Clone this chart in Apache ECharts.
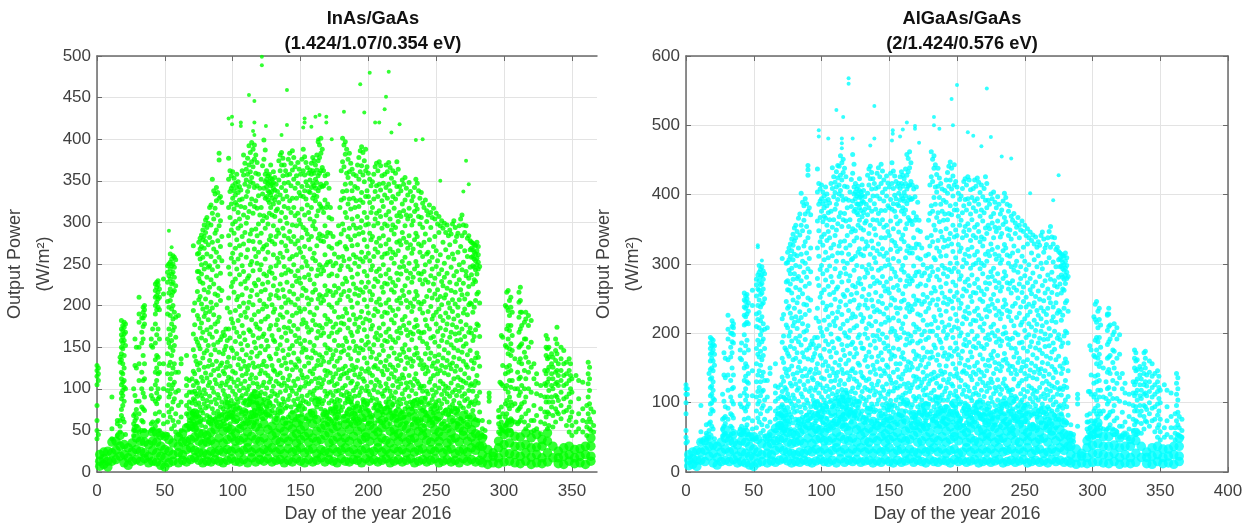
<!DOCTYPE html>
<html><head><meta charset="utf-8"><style>html,body{margin:0;background:#fff}#c{width:1254px;height:526px}</style>
<script src="https://cdn.jsdelivr.net/npm/echarts@6/dist/echarts.min.js"></script></head><body><div id="c"></div>
<script>
const inasTicksX=[0,50,100,150,200,250,300,350];
const algaTicksX=[0,50,100,150,200,250,300,350,400];
const inasOutliers=[[121.5,499],[121.5,489],[112,453],[116,446],[140,459],[99.5,427],[97,425],[99.5,418],[106,420],[106,416],[116,420],[115,410],[116,405],[124.5,416],[140,417],[136,405],[153,425],[153,420],[152,414],[158,415],[161,427],[164,429],[169,427],[169,420],[173,400],[163,400],[201,480],[215,481],[194,466],[213,451],[212,436],[197,432],[182,433],[208,420],[205,420],[223,418],[217,408],[235,399],[240,400],[272,374],[274,346],[270,337],[253,350],[53,290],[55,270]];
const inasColumns=[
[0,128,122,115,105,80,62,50,40],[1,125,118,110,45],[11,90,52,40],[15,62,58,44],[17,138,132,62,55,48],
[18,182,172,165,158,150,142,135,120,112,105,95,88,75,68],[19,176,170,162,155,148,130,118,108,98,92,80,64],[20,180,174,166,158,140,125,110,102,85,60],[21,178,168,152,100,45],
[27,100,68,58,50,44],[28,160,128,92,70,62,50],[29,150,125,85,75,65,55],[31,210,190,180,150,130,110,85,70,48],[33,185,168,155,120,100,78,62,50],[34,198,192,185,175,160,140,110,95,76,60],[35,200,195,188,178,130,112,90,74,50],
[40,160,152,100,92,58,50],[41,172,150,88,60,52],[43,226,218,210,200,190,178,155,135,120,105,85,70,55],[44,228,222,212,204,195,165,140,125,110,95,82,60],[45,230,225,216,208,198,172,138,118,100,88,62],[46,220,210,195,160,130,120,90,72,50],
[49,232,214,130,100,68,58,44],[52,248,240,228,205,190,160,142,118,98,80,60,45],[53,250,236,215,198,172,155,128,105,90,72],[54,262,252,244,232,220,206,188,165,150,132,112,94,66],[55,256,248,238,226,212,196,178,158,140,118,100,76,52],[56,260,250,240,228,216,200,184,170,146,125,105,84,62],[57,258,246,234,218,192,174,152,130,108,88,56],[58,255,224,186,162,120,96,70,48],[60,188,120,98,80,60,45],[62,136,130,84,66,50],[66,140,112,104,92,80,70,56],[68,110,96,84,76,62,52],
[70,112,96,83,71,64,58],[71,272,194,166,147,121,104,88,73,61,52],[72,203,177,139,118,97,86,69,57],[73,160,133,109,94,81,66,53],[74,262,241,217,188,156,129,107,91,72,59],[75,276,263,241,233,207,184,152,123,101,83,67],[76,281,268,256,229,211,173,148,131,96,78,61],[77,285,271,249,238,202,179,161,114,92,74,56],[78,291,279,258,227,196,168,137,109,88,71],[79,297,283,269,244,219,187,143,126,99,82,63],[80,303,288,277,251,208,191,158,119,94,77,54],[81,306,294,262,234,198,171,146,113,86,68],[82,299,273,246,216,183,152,127,104,79,60],[83,318,282,248,222,193,166,134,108,91,66],[84,321,297,259,231,204,174,141,117,84,57],[85,352,311,276,243,197,162,129,101,76,62],[86,338,304,268,226,189,153,122,96,71],[87,334,317,287,253,214,178,147,111,87,64],[88,342,326,291,264,236,201,169,133,106,82,59],[89,336,309,278,247,212,181,156,124,93,73],[90,383,375,329,296,258,221,186,144,116,89,67],[91,331,302,271,239,206,159,128,103,78,56],[92,324,283,254,218,163,131,107,84,69],[93,168,142,121,98,76,61],[94,164,147,118,93,72,58],[95,172,151,126,105,88,63],[96,197,158,132,109,83,66,52],[97,377,352,318,284,246,209,172,138,114,91,74],[98,362,337,306,273,238,192,161,127,102,79,58],[99,356,341,322,291,257,223,184,149,112,86,68],
[100,361,344,329,298,263,228,179,146,121,97,71],[101,353,338,316,287,252,216,173,137,108,82,63],[102,347,333,324,301,269,232,194,157,119,93,76],[103,358,342,321,279,244,207,168,142,103,88,61],[104,349,336,312,293,256,211,182,129,111,84,69],[105,343,327,304,272,237,199,163,136,98,77,55],[106,339,319,296,261,226,188,154,124,106,89,64],[107,362,328,283,248,213,176,147,116,92,72],[108,381,357,309,274,241,203,167,133,101,83,58],[109,371,346,318,288,229,192,159,127,109,86,67],[110,364,351,331,299,258,221,186,141,118,94,73],[111,377,358,337,306,267,233,197,152,123,99,62],[112,392,369,343,313,278,236,204,171,128,103,81],[113,384,361,349,322,286,249,211,169,137,112,88,66],[114,396,373,354,328,291,253,218,183,144,117,93,71],[115,388,367,347,311,277,242,201,164,131,107,84],[116,393,376,342,319,268,227,189,156,126,97,74,59],[117,381,359,326,292,259,224,178,149,113,91,68],[118,372,344,317,284,251,213,174,139,106,83,61],[119,358,332,298,264,231,193,161,127,102,79],[120,341,309,276,243,206,172,143,118,92,73,56],[121,352,318,287,249,217,181,151,122,96,76],[122,368,334,302,268,226,196,163,129,104,81,64],[123,399,376,341,308,271,238,202,166,133,108,87],[124,387,358,349,329,293,256,219,184,147,119,94,72],[125,362,352,343,331,306,273,236,199,158,127,101,78],[126,356,347,338,327,298,264,228,187,151,116,89,69],[127,358,349,336,324,311,279,241,208,172,139,108,83],[128,369,353,344,333,318,284,246,213,176,136,112,91,67],[129,352,346,337,329,309,277,239,201,164,128,97,74],[130,361,348,341,322,296,261,224,192,159,123,103,79],[131,354,339,327,307,274,233,196,157,121,94,71],[132,346,331,314,283,248,212,177,142,109,86,63],[133,337,316,291,257,218,183,148,117,92,68],[134,374,351,324,287,252,209,171,134,106,82],[135,381,362,333,302,263,226,189,153,119,96,73],[136,384,369,342,312,276,237,198,162,128,104,81],[137,377,356,328,293,258,219,186,146,113,88,65],[138,369,347,319,284,247,211,174,137,107,84],[139,362,338,306,272,239,203,167,131,98,77,59],[140,357,331,299,266,228,192,158,124,103,79],[141,376,348,317,281,243,207,173,141,111,87,66],[142,383,358,326,289,256,217,181,148,116,92],[143,371,344,312,277,241,204,169,132,101,78,61],[144,386,363,329,297,259,224,188,152,123,97,72],[145,378,352,318,283,249,214,176,143,109,86],[146,367,341,308,274,236,201,164,129,104,81,63],[147,356,329,296,261,229,191,157,126,94,74],[148,372,347,311,278,242,208,172,136,112,88,67],[149,364,336,303,269,233,197,161,133,99,79],[150,358,332,298,264,227,193,154,122,102,83,59],[151,376,343,316,282,246,212,178,144,117,91,69],[152,388,362,331,294,258,221,183,149,113,86],[153,379,357,338,309,271,234,196,158,127,103,76],[154,372,349,328,291,253,218,179,147,108,84,64],[155,366,344,321,286,248,209,174,138,114,92],[156,359,337,312,279,237,202,168,131,106,82,61],[157,363,351,336,304,268,231,192,156,121,96,73],[158,371,358,342,318,283,244,207,171,137,109,87],[159,378,362,347,329,296,257,216,182,146,118,93,71],[160,374,359,344,333,301,263,226,189,152,124,98],[161,369,352,341,326,292,254,219,177,143,112,89,66],[162,381,363,348,331,308,272,236,197,161,128,101,78],[163,397,374,356,338,314,281,243,208,169,134,107,84],[164,393,378,359,342,322,286,249,213,176,141,113,88],[165,401,383,362,346,319,278,238,203,164,129,102,76],[166,388,366,343,317,284,246,211,173,138,106,82,62],[167,362,344,312,277,242,206,167,133,111,86,69],[168,356,327,296,261,224,188,153,122,97,74],[169,347,318,283,249,213,178,143,116,91,68],[170,358,322,288,252,218,184,149,121,94,72,57],[171,341,306,271,236,201,163,132,108,83,64],[172,318,287,253,217,181,147,119,96,76],[173,304,269,238,198,167,136,109,86,61],[174,283,248,212,174,141,114,92,73],[175,262,224,193,158,127,104,84,58],[176,251,216,178,146,118,97,78,63],[177,274,236,203,168,133,106,87,66],[178,296,258,221,186,152,123,98,72],[179,318,276,243,207,171,137,112,86,59],[180,362,327,286,248,213,179,144,116,93,74],
[181,401,373,337,298,259,226,187,152,124,101,78],[182,393,367,329,291,254,217,178,146,118,92,67],[183,397,382,346,312,271,233,196,161,127,104,83],[184,388,359,338,306,268,229,191,157,119,96,71],[185,376,354,322,283,247,211,173,141,113,88,62],[186,383,361,328,293,256,218,183,149,122,94,76],[187,371,347,316,279,243,206,168,136,107,84,58],[188,364,338,304,272,234,198,164,128,109,81],[189,358,329,297,261,226,189,157,123,98,77,64],[190,343,318,284,251,214,178,146,117,91,69],[191,356,326,293,258,221,184,151,126,102,79],[192,369,341,307,273,238,203,169,134,106,83,61],[193,378,352,319,286,247,212,174,143,114,92],[194,386,361,327,294,256,219,186,149,118,96,73],[195,391,368,336,302,264,228,193,158,124,101,78],[196,384,357,324,288,253,216,179,147,112,87],[197,374,349,312,279,241,207,171,137,109,84,63],[198,388,362,331,297,258,222,184,153,121,98,76],[199,367,338,306,271,236,199,163,131,103,82],[200,359,331,298,263,228,191,156,124,97,74,58],[201,352,324,287,254,217,182,148,119,93,71],[202,344,312,279,243,207,172,138,108,86,66],[203,349,318,283,248,213,176,144,116,89,68],[204,358,328,296,259,223,188,153,126,99,77],[205,367,337,304,268,232,196,162,128,104,81,59],[206,371,344,311,276,241,204,167,136,111,87],[207,362,331,299,264,229,193,159,124,96,74,62],[208,373,346,314,281,244,208,173,141,108,83],[209,368,339,307,272,236,201,164,132,103,79,61],[210,356,326,293,258,222,187,152,121,94,72],[211,347,319,284,249,216,178,146,117,91,69],[212,358,333,298,262,227,192,158,127,98,76],[213,369,342,309,274,238,203,168,134,106,84,63],[214,361,329,296,263,226,191,157,123,101,78],[215,372,346,313,279,243,207,172,139,112,88],[216,366,338,304,268,233,198,163,129,97,74,58],[217,353,324,291,257,219,183,149,118,92,71],[218,362,331,297,264,228,194,159,126,104,81],[219,348,317,286,251,216,179,143,114,89,67],[220,359,328,294,261,224,188,156,122,96,73],[221,373,343,308,276,239,206,169,136,109,84,62],[222,364,334,301,266,231,196,161,128,102,79],[223,343,312,278,246,209,173,141,112,87,64],[224,338,307,273,238,203,167,134,106,82],[225,351,322,288,253,218,183,148,117,94,72],[226,346,314,281,247,212,176,144,113,88,66],[227,354,327,296,258,224,187,153,124,99,76],[228,341,309,276,242,206,171,138,107,83,59],[229,333,304,269,233,198,164,131,102,78],[230,348,317,284,251,216,179,147,116,91,69],[231,337,308,273,239,203,168,136,108,84],[232,326,297,263,228,193,159,127,98,76,57],[233,331,302,268,234,199,166,133,104,81],[234,342,313,279,244,208,174,141,112,86,64],[235,352,321,287,253,217,183,149,118,94,73],[236,347,316,283,248,212,176,143,109,87],[237,338,307,274,239,204,169,137,106,82,61],[238,329,298,264,231,196,161,129,101,77],[239,336,306,272,238,202,167,134,103,84,63],[240,323,294,259,226,191,157,124,97,74],[241,318,276,241,205,168,129,103,78,56],[242,327,286,249,231,183,142,118,89,72],[243,314,301,262,211,176,154,126,97,68],[244,309,264,228,193,149,121,94,81],[245,321,279,253,218,172,136,108,83,63],[246,312,294,236,199,161,143,112,76],[247,306,258,244,209,184,127,99,87,59],[248,317,271,226,188,163,131,116,92,71],[249,304,283,233,214,156,139,104,79],[250,311,266,247,192,178,124,96,84,64],
[251,298,254,219,207,169,133,118,73],[252,307,288,238,196,151,141,101,86,63],[253,296,261,211,187,173,122,109,77],[254,302,243,229,201,158,128,93,82,58],[255,293,276,224,182,164,137,106,71],[256,299,251,234,209,147,119,98,88,61],[257,288,267,213,191,171,126,103,74],[258,297,239,221,178,156,134,94,84],[259,284,258,203,186,143,117,101,69,56],[260,291,273,228,197,162,129,91,78],[261,286,246,218,168,153,124,107,73],[262,298,262,207,193,177,131,96,81,62],[263,302,256,236,184,149,138,112,86],[264,294,277,216,202,166,121,99,76],[265,283,241,226,174,158,127,92,69],[266,287,264,198,188,146,114,104,74,58],[267,296,249,231,207,167,136,97,83],[268,304,271,219,181,159,123,111,79,64],[269,309,284,243,213,172,144,102,91],[270,297,252,227,191,151,133,109,77,61],[271,288,266,208,196,163,118,94,86],[272,296,241,236,177,154,129,107,72],[273,281,259,214,189,141,126,88,66,57],[274,284,233,223,201,168,113,98,79],[275,278,267,246,203,173,146,104,83,66],[276,276,269,258,237,202,167,134,106,84],[277,275,267,259,248,226,192,158,124,97,74],[278,273,264,256,246,231,198,163,131,104,81],[279,272,262,254,243,229,206,171,137,109,86,63],[280,276,266,257,249,238,214,178,143,116,91],[281,271,261,252,244,216,176,138,107,83,62],[282,247,203,163,127,96,72],
[284,62,52,44],[286,50,42],[289,95,90,85,60],[296,74,66,58,48],[297,108,66,54,46],[298,164,106,78,60,52],[299,162,128,104,70,50],
[301,200,152,118,100,82,66,56,48],[302,216,198,172,150,126,104,86,70,58],[303,218,194,176,160,142,120,96,80,62,50],[304,206,188,170,148,128,110,90,76,60],[305,210,198,176,154,140,122,102,84,64,50],[306,192,164,146,110,80,62],[308,136,100,82,60],[310,120,100,74,58],
[311,216,204,186,168,150,132,112,92,76,60],[312,222,206,192,172,152,136,114,96,78,62],[313,192,176,154,130,104,82,66],[315,180,160,144,122,100,84,60],[316,192,184,160,138,112,90,70,52],[318,188,176,150,132,120,100,74,56],[320,182,156,126,96,62,48],[322,130,112,80,62,50],[324,118,106,94,68,52],
[327,104,92,76,60,46],[330,122,106,90,72,58],[331,164,150,140,118,104,84,66],[332,160,148,136,122,108,90,72,52],[333,150,138,126,112,98,84,70,56],[335,142,130,118,104,90,78],[336,138,126,112,100,84,68,54],[338,160,146,134,120,106,92,76,60],[339,174,154,142,122,108,90,72],[340,130,116,104,86,70],
[342,150,136,122,110,96,80,64],[344,146,130,116,104,88,72],[346,132,118,106,90,74,56],[348,136,122,110,94,78,62,48],[349,130,116,100,84,66],[350,112,96,72,56,44],
[353,116,60,48],[355,110,88,70,52],[358,108,76,62,48],[361,80,60,54,44],[362,132,118,106,90,70],[363,126,112,98,82,64,52],[364,76,60,50],[366,72,56,48]];
const inasDense=[
[2,7,13,21],[5,9,16,24],[8,6,13,25],[11,13,23,36],[14,15,26,37],[17,19,31,44],[20,11,21,33],[23,8,17,29],[26,13,24,35],[29,15,27,41,52],[32,13,25,37],[35,16,23,36,46],[38,11,19,33],[41,13,26,37,48],[44,12,23,36,47],[47,8,19,31,44],[50,6,17,27,43],[53,11,25,39],[56,13,21,35],
[60,11,23,31,42],[63,14,21,36,46],[66,12,27,37,53],[69,15,29,39,56,68],[72,17,26,42,53,71],[75,14,24,37,47,63],[78,11,23,34,46],[81,13,21,36,44],[84,12,25,38,48,61],[87,15,23,34,51],[90,13,26,41,57,66],[93,11,24,35,49],[96,14,27,39,53,67,81],[99,16,25,42,51,69],[102,13,28,37,47,63,77],[105,12,23,38,52],[108,15,26,41,56,72],[111,11,29,36,48,61,83],[114,17,24,43,57,69,88],[117,12,28,39,54,66,79,93],[120,15,23,37,49,73,85],[123,13,27,41,58,67],[126,16,25,35,51,71,82],[129,12,29,44,55],[132,14,24,38,47,62],[135,15,27,36,53,74],[138,11,22,41,49,61],[141,14,28,37,56],[144,12,24,42,52,68],[147,16,26,35,46,59],[150,13,29,39,51,64,77],[153,11,23,43,55],[156,15,26,36,47,66],[159,12,28,41,58,71],[162,14,22,37,49,63,84],[165,17,27,39,53],[168,12,25,44,56,69],[171,15,23,35,47,61],[174,13,28,38,52,73],[177,11,24,42,55,67,79],[180,16,26,36,48],[183,13,29,41,57,64],[186,12,24,37,51,72,87],[189,15,27,43,58,68],[192,14,22,35,49,61,76],[195,11,26,39,54,65],[198,16,28,42,47,71,83],[201,13,23,37,56,63],[204,15,25,44,52],[207,12,29,36,48,69,78],[210,14,24,41,53,62],[213,16,27,38,57,74],[216,11,22,35,49,67,81],[219,13,28,43,51,65],[222,15,25,37,46,59,72],[225,12,27,42,55,68],[228,14,23,36,52,63],[231,16,29,39,47,73],[234,11,24,41,56,66,82],[237,13,26,35,49,61],[240,15,28,44,53,71,86],[243,12,22,38,47,64],[246,14,27,36,58,69],[249,16,25,42,51,62,78],[252,11,29,37,48,67],[255,13,23,43,55],[258,15,26,35,52,72],[261,12,28,39,47,63],[264,14,22,41,56,74],[267,11,25,36,53,61],[270,16,27,44,49,68],[273,13,24,37,57],[276,15,29,42,51,66],[279,12,26,35,46,59],[282,14,31,44],
[284,11,21,31,41],[288,9,17,27],[292,11,19,23],[296,10,17,29,37],[300,12,23,33,45,53],[304,13,22,35,47,59],[308,11,21,31,43],[312,10,19,31,42],[316,13,23,33,47],[320,9,18,29,41],[324,11,21,30,45],[328,10,17,31,39],[332,12,23,37,47],[336,17,31],[340,10,17,25],[344,9,19,29],[348,13,21,31],[352,10,17,27],[356,11,19,28],[360,9,21,31],[364,13,19,31,41]];
const algaOutliers=[[120,568],[120,560],[111,522],[116,512],[139,528],[98,493],[98,484],[105,481],[115,481],[115,474],[115,467],[123,481],[139,481],[136,471],[152.6,493],[152.6,488],[163,504],[160,494],[169,499],[169,495],[172,475],[158,484],[152,478],[200,558],[222,553],[196,538],[183,500],[187,495],[197,500],[212,485],[225,483],[275,428],[183,512],[208,490],[218,470],[240,452],[233,455],[254,402],[271,392],[53,327],[53,324],[56,305]];
const algaColumns=[
[0,126,120,112,100,84,60,50,42],[1,120,112,44],[11,96,58,44],[15,68,56,46],[17,142,70,60,50],
[18,194,186,178,170,160,148,134,122,110,98,84,72],[19,192,182,172,164,150,136,124,112,100,90,66],[20,190,184,176,160,146,130,118,106,88,62],[21,182,170,154,104,48],
[27,112,76,62,52],[28,172,140,102,78,66,54],[29,164,136,94,80,70,56],[31,226,206,192,162,140,118,92,76,52],[33,200,180,166,132,108,84,66,54],[34,218,210,200,188,172,150,120,102,82,64],[35,214,208,198,186,140,122,98,78,56],
[40,176,164,110,98,62,54],[41,186,162,94,66,56],[43,258,248,238,226,212,198,172,150,132,114,92,76,58],[44,254,246,236,224,214,182,156,138,120,104,88,64],[45,256,250,240,228,216,190,152,130,110,94,68],[46,244,232,214,176,142,128,98,78,54],
[49,262,240,146,110,74,62,46],[52,278,270,254,228,210,178,156,130,108,88,64,48],[53,284,264,240,220,190,170,140,116,98,78],[54,298,288,276,262,248,230,208,184,166,146,122,102,72],[55,292,282,270,256,238,218,198,174,154,130,110,84,56],[56,296,284,272,258,242,224,204,188,162,138,116,92,68],[57,290,278,264,244,214,192,168,144,118,96,60],[58,286,250,206,178,132,104,76,52],[60,208,132,108,88,66,48],[62,150,142,92,72,54],[66,156,124,114,102,88,76,60],[68,122,106,92,84,68,56],
[70,126,109,94,82,71,63],[71,308,221,187,164,137,116,97,81,68,57],[72,227,196,158,131,108,94,77,62],[73,179,149,122,106,89,73,59],[74,301,274,246,212,176,143,119,103,82,66],[75,317,302,276,263,236,208,171,138,113,93,74],[76,323,306,291,262,239,196,167,148,107,87,69],[77,329,311,286,271,229,202,181,128,102,83,62],[78,336,319,294,258,222,189,153,124,98,79],[79,343,327,306,278,248,211,162,141,111,92,71],[80,352,333,314,286,236,216,178,134,106,86,61],[81,356,338,298,266,224,193,164,127,96,76],[82,347,312,279,244,207,172,143,118,88,67],[83,366,323,282,252,218,188,151,121,102,74],[84,372,342,296,263,231,196,159,131,94,64],[85,402,356,314,276,223,183,146,113,86,69],[86,389,348,304,257,214,172,138,108,79],[87,384,363,326,288,242,202,166,126,97,72],[88,394,372,332,301,268,227,191,149,119,92,66],[89,387,354,316,281,241,204,176,139,104,82],[90,442,436,428,376,338,293,251,211,163,131,99,74],[91,381,346,308,272,233,179,144,116,87,63],[92,371,323,289,248,184,148,121,94,77],[93,189,161,136,110,86,68],[94,184,166,133,104,81,64],[95,194,171,142,118,98,71],[96,222,178,149,122,93,74,58],[97,437,404,362,323,279,236,194,156,128,102,83],[98,416,386,348,311,269,217,182,143,114,88,64],[99,408,391,367,332,292,252,208,168,126,97,76],
[100,414,394,376,339,298,258,202,164,136,108,79],[101,404,387,361,327,286,244,196,154,121,92,71],[102,398,381,369,343,306,263,219,177,134,104,86],[103,411,391,366,317,277,234,189,159,116,99,68],[104,401,384,356,334,291,239,206,146,124,94,77],[105,393,374,347,309,268,224,184,153,109,86,62],[106,388,364,338,297,256,212,174,139,119,101,72],[107,416,376,323,282,241,199,166,131,103,81],[108,439,409,353,312,274,229,188,149,113,94,66],[109,426,397,364,328,259,217,179,143,122,96,74],[110,418,403,379,341,293,249,211,158,132,106,82],[111,433,411,386,349,304,264,222,172,138,111,69],[112,442,424,393,358,316,267,231,193,144,116,91],[113,441,414,401,368,326,282,238,191,154,126,98,74],[114,456,428,406,374,332,287,246,207,162,132,104,79],[115,446,421,398,354,316,274,227,184,148,119,94],[116,451,432,392,364,304,256,213,176,142,108,83,66],[117,438,412,373,333,294,253,201,168,127,102,76],[118,426,394,362,323,286,241,196,156,118,93,68],[119,411,381,341,301,262,218,182,143,114,88],[120,392,354,314,276,233,194,161,133,103,82,63],[121,404,364,327,283,246,204,171,138,108,86],[122,422,383,346,306,256,222,184,146,116,91,72],[123,458,431,391,351,308,269,228,187,149,121,97],[124,444,411,401,376,333,291,248,208,166,134,106,81],[125,416,404,394,379,348,311,267,224,178,143,114,87],[126,408,398,387,374,338,298,258,211,171,131,101,77],[127,412,401,386,371,356,317,273,236,194,157,122,93],[128,423,406,396,381,363,322,279,241,198,154,126,102,76],[129,404,397,387,377,352,314,271,227,186,144,109,83],[130,414,399,391,368,336,296,253,217,179,138,116,88],[131,406,389,374,349,312,264,222,178,136,106,79],[132,397,379,359,322,281,241,199,161,122,97,71],[133,386,362,332,292,248,207,167,132,103,76],[134,428,402,371,326,287,236,193,152,119,92],[135,437,414,381,344,299,256,214,173,134,108,82],[136,441,423,392,356,314,268,224,183,144,117,91],[137,432,408,376,333,293,248,211,166,127,98,73],[138,423,398,364,323,281,239,197,154,121,94],[139,416,387,351,309,272,231,189,148,111,87,66],[140,409,379,342,302,259,217,179,141,116,89],[141,431,398,363,319,276,234,196,159,126,98,74],[142,439,411,373,329,291,246,204,167,131,104],[143,426,394,358,314,273,231,191,149,114,88,69],[144,444,416,377,338,294,254,213,172,139,109,81],[145,434,403,364,322,282,243,199,162,123,97],[146,421,391,353,311,268,228,186,146,118,92,71],[147,408,377,338,297,261,216,178,142,106,84],[148,427,398,356,316,274,236,194,154,127,99,76],[149,417,384,347,306,264,223,182,151,112,89],[150,411,381,341,299,258,219,174,138,116,94,66],[151,431,393,362,321,279,241,202,163,133,103,78],[152,446,416,379,334,293,251,207,169,128,97],[153,434,409,387,351,308,266,222,179,144,117,86],[154,427,399,376,331,288,248,203,167,122,96,72],[155,419,394,368,326,282,237,197,156,129,104],[156,412,386,358,318,269,229,191,148,121,92,69],[157,416,402,384,346,304,262,218,177,137,108,83],[158,426,409,392,362,322,277,236,194,156,124,98],[159,433,416,398,376,336,292,246,207,166,134,106,81],[160,428,412,394,381,342,298,257,214,172,141,111],[161,423,403,391,372,332,288,248,201,163,127,101,74],[162,437,416,398,378,351,309,268,224,183,146,114,88],[163,458,428,408,387,358,319,276,236,192,152,122,96],[164,452,433,412,392,367,326,283,242,199,159,128,99],[165,462,439,414,396,363,316,271,231,186,147,116,86],[166,446,419,393,362,323,279,239,196,157,121,93,71],[167,414,394,357,316,276,234,189,151,126,97,78],[168,408,374,338,297,254,213,174,138,109,84],[169,397,363,323,283,242,202,163,131,103,77],[170,411,368,329,288,248,209,169,137,106,82,64],[171,389,349,309,268,228,186,149,122,94,72],[172,363,328,289,247,206,167,134,109,86],[173,347,307,271,226,189,154,124,97,69],[174,323,283,242,198,161,129,104,82],[175,299,256,219,179,144,118,96,66],[176,287,246,203,166,134,111,88,71],[177,312,269,231,191,151,121,99,74],[178,338,294,252,212,173,139,111,82],[179,363,314,277,236,194,156,127,98,67],[180,414,373,326,283,243,203,164,132,106,84],
[181,462,426,384,341,296,258,213,173,141,114,88],[182,451,419,376,332,289,248,203,166,134,104,76],[183,456,438,396,356,309,266,224,183,144,118,94],[184,443,411,386,349,306,261,218,179,136,109,81],[185,429,404,367,323,282,241,197,161,128,99,71],[186,438,412,374,334,292,249,208,169,139,107,86],[187,424,396,361,318,277,234,191,154,122,96,66],[188,416,386,347,311,267,226,187,146,124,92],[189,408,376,339,298,258,216,179,141,111,88,73],[190,392,363,324,286,244,203,167,133,104,78],[191,406,372,334,294,252,209,172,144,116,89],[192,421,389,351,312,272,232,193,153,121,94,69],[193,432,402,364,326,282,242,198,163,129,104],[194,441,412,373,336,292,249,212,169,134,109,83],[195,447,421,384,344,301,261,221,179,141,114,88],[196,438,408,371,329,289,246,204,167,127,99],[197,427,398,356,318,274,236,194,156,124,96,72],[198,443,414,378,339,294,253,209,174,138,111,86],[199,419,386,349,309,269,227,186,149,117,93],[200,411,378,341,301,259,218,178,142,109,84,66],[201,402,369,328,289,248,207,169,136,106,81],[202,393,356,318,278,236,196,157,123,98,74],[203,398,363,323,283,243,201,164,132,101,77],[204,409,374,338,296,254,214,174,144,112,88],[205,419,384,347,306,264,224,184,146,118,92,67],[206,423,393,354,314,274,232,191,154,126,99],[207,414,378,341,301,261,221,182,142,109,84,71],[208,426,394,358,321,278,238,198,161,123,94],[209,421,387,349,311,269,229,187,151,117,89,69],[210,407,372,334,294,253,213,173,138,107,82],[211,396,364,324,284,246,203,166,133,103,78],[212,409,381,341,299,259,219,181,144,112,86],[213,421,391,353,313,272,232,192,153,121,96,72],[214,412,376,338,301,258,218,179,141,114,89],[215,424,394,357,318,278,236,196,158,127,101],[216,418,386,347,306,266,226,186,147,111,84,66],[217,403,369,332,293,249,209,169,134,104,81],[218,414,378,339,301,261,221,181,144,118,92],[219,397,362,326,286,246,204,163,129,101,76],[220,409,374,336,298,256,214,178,139,109,83],[221,426,392,352,314,273,234,193,154,124,96,71],[222,416,381,344,304,264,224,184,146,116,90],[223,392,356,318,281,239,198,161,128,99,73],[224,386,351,312,272,232,191,153,121,94],[225,401,368,329,289,249,209,169,134,107,82],[226,394,359,321,282,242,201,164,129,101,76],[227,404,373,338,294,256,213,174,142,113,87],[228,389,353,314,276,236,196,158,122,96,68],[229,381,347,307,266,226,187,149,117,89],[230,397,362,324,286,247,204,168,133,104,79],[231,386,352,312,273,232,192,156,123,96],[232,372,339,301,261,221,182,146,112,87,66],[233,378,344,306,267,228,189,152,119,92],[234,391,357,319,279,238,199,161,128,98,73],[235,402,367,328,289,248,209,171,134,107,84],[236,396,361,323,283,242,201,163,124,99],[237,386,351,313,273,233,193,157,121,94,69],[238,376,341,301,264,224,184,147,116,88],[239,384,349,311,272,231,191,153,118,96,72],[240,369,336,296,258,218,179,142,111,84],[241,363,316,276,239,193,152,119,91,64],[242,373,326,291,266,211,166,134,102,78],[243,359,344,298,243,201,178,147,109,76],[244,353,304,262,223,172,141,106,93],[245,367,319,288,251,198,158,124,96,73],[246,356,338,271,229,186,164,128,87],[247,349,296,279,238,212,146,113,101,68],[248,362,311,259,216,187,151,132,104,82],[249,347,324,267,246,179,159,119,92],[250,356,304,283,221,204,142,109,96,73],
[251,341,292,252,238,194,153,134,84],[252,351,329,273,226,174,162,116,98,72],[253,338,299,242,214,198,139,124,87],[254,346,279,263,231,181,147,106,94,66],[255,334,316,257,209,188,157,121,82],[256,342,287,268,239,169,136,112,101,69],[257,329,306,244,219,196,144,118,84],[258,339,274,253,204,179,153,107,96],[259,324,296,233,213,164,134,116,79,64],[260,332,312,261,226,186,148,104,88],[261,327,282,249,193,176,142,122,83],[262,341,301,237,221,203,149,109,92,71],[263,346,293,269,211,171,158,128,98],[264,336,317,247,232,191,138,113,86],[265,323,276,258,199,181,146,106,79],[266,328,302,227,216,167,131,119,84,66],[267,338,284,264,236,192,156,111,94],[268,347,309,251,207,182,141,127,91,73],[269,354,324,278,244,197,164,117,104],[270,339,288,259,218,173,152,124,88,69],[271,329,303,238,224,186,136,108,97],[272,338,276,269,203,177,148,122,82],[273,321,296,244,216,162,144,101,76,64],[274,324,267,256,229,193,129,112,89],[275,318,306,281,233,198,167,119,94,76],[276,316,308,296,271,231,191,153,121,96],[277,314,306,297,284,258,219,181,142,111,84],[278,312,302,293,281,264,226,186,149,119,92],[279,311,299,291,278,262,236,196,157,124,98,72],[280,316,304,294,284,272,244,203,163,132,104],[281,309,298,288,279,247,201,158,122,94,71],[282,282,232,186,146,109,82],
[284,68,56,46],[286,54,44],[289,112,106,98,66],[296,82,72,62,50],[297,116,72,58,48],[298,182,116,84,64,54],[299,176,140,112,74,52],
[301,224,168,128,108,88,70,58,50],[302,242,220,190,166,138,112,92,74,60],[303,246,216,194,176,156,130,104,84,64,52],[304,232,208,188,164,140,118,96,80,62],[305,236,220,194,170,152,132,108,88,68,52],[306,212,180,158,118,84,64],[308,150,108,88,62],[310,130,106,78,60],
[311,228,226,204,184,164,144,120,98,80,62],[312,236,228,210,188,166,148,122,102,82,64],[313,212,192,168,142,112,86,68],[315,198,176,158,132,106,88,62],[316,214,202,174,150,120,96,74,54],[318,208,192,164,142,128,106,78,58],[320,198,170,136,102,66,50],[322,142,120,86,66,52],[324,128,114,100,72,54],
[327,112,98,80,62,48],[330,130,114,96,76,60],[331,176,164,150,126,110,88,68],[332,172,160,146,130,114,94,74,54],[333,162,148,134,118,104,88,72,58],[335,152,140,126,110,96,82],[336,148,134,118,106,88,70,56],[338,172,156,142,126,112,96,80,62],[339,174,164,150,130,114,94,74],[340,140,124,110,90,72],
[342,160,144,130,116,100,84,66],[344,156,138,122,108,92,74],[346,142,126,112,94,76,58],[348,146,130,116,98,82,64,50],[349,138,122,106,88,68],[350,118,100,76,58,46],
[353,126,64,50],[355,118,94,74,54],[358,114,80,64,50],[361,84,64,56,46],[362,142,128,112,96,74],[363,136,120,104,86,68,54],[364,80,64,52],[366,76,60,50]];
const algaDense=[
[2,9,17,25],[5,11,19,29],[8,8,17,31],[11,17,29,43],[14,15,31,45],[17,23,37,51],[20,13,27,39],[23,10,21,37],[26,15,29,43],[29,17,33,49,61],[32,15,29,45],[35,18,31,43,55],[38,13,23,39],[41,15,29,45,57],[44,13,27,43,57],[47,10,23,37,51],[50,8,21,33,51],[53,13,29,47],[56,15,25,41],
[60,13,27,37,49],[63,16,25,41,55],[66,14,31,45,63],[69,17,35,47,67,81],[72,19,31,49,63,85],[75,16,29,43,57,75],[78,13,27,41,55],[81,15,25,43,53],[84,14,29,45,57,73],[87,17,27,41,61],[90,15,31,49,67,79],[93,13,29,41,57],[96,16,33,47,63,81,97],[99,18,29,49,61,83],[102,15,33,45,57,75,93],[105,14,27,45,63],[108,17,31,49,67,87],[111,13,35,43,57,73,99],[114,19,29,51,69,83,105],[117,14,33,47,65,79,95,111],[120,17,27,45,59,87,101],[123,15,33,49,69,81],[126,18,29,43,61,85,99],[129,14,35,53,65],[132,16,29,45,57,75],[135,17,33,43,63,89],[138,13,27,49,59,73],[141,16,33,45,67],[144,14,29,51,63,81],[147,18,31,43,55,71],[150,15,35,47,61,77,93],[153,13,27,51,67],[156,17,31,43,57,79],[159,14,33,49,69,85],[162,16,27,45,59,75,101],[165,19,33,47,63],[168,14,29,53,67,83],[171,17,27,43,57,73],[174,15,33,45,63,87],[177,13,29,51,65,81,95],[180,18,31,43,57],[183,15,35,49,69,77],[186,14,29,45,61,87,105],[189,17,33,51,69,81],[192,16,27,43,59,73,91],[195,13,31,47,65,79],[198,18,33,51,57,85,99],[201,15,27,45,67,75],[204,17,29,53,63],[207,14,35,43,57,83,93],[210,16,29,49,63,75],[213,18,33,45,69,89],[216,13,27,43,59,81,97],[219,15,33,51,61,79],[222,17,29,45,55,71,87],[225,14,33,51,65,81],[228,16,27,43,63,75],[231,18,35,47,57,87],[234,13,29,49,67,79,99],[237,15,31,43,59,73],[240,17,33,53,63,85,103],[243,14,27,45,57,77],[246,16,33,43,69,83],[249,18,29,51,61,75,93],[252,13,35,45,57,81],[255,15,27,51,65],[258,17,31,43,63,87],[261,14,33,47,57,75],[264,16,27,49,67,89],[267,13,29,43,63,73],[270,18,33,53,59,81],[273,15,29,45,69],[276,17,35,51,61,79],[279,14,31,43,55,71],[282,16,37,53],
[284,13,25,37,49],[288,11,21,33],[292,13,23,27],[296,12,21,35,45],[300,14,27,39,53,63],[304,15,27,41,57,71],[308,13,25,37,51],[312,12,23,37,51],[316,15,27,39,57],[320,11,21,35,49],[324,13,25,37,53],[328,12,21,37,47],[332,14,27,45,57],[336,21,37],[340,12,21,29],[344,11,23,35],[348,15,25,37],[352,12,21,33],[356,13,23,33],[360,11,25,37],[364,15,23,37,49]];
const expand=cols=>cols.flatMap(c=>c.slice(1).map(y=>[c[0],y]));
const base={type:'scatter',silent:true,animation:false,large:false};
function series(color,xi,yi,cols,dense,outl){return [
 {...base,name:'dense',xAxisIndex:xi,yAxisIndex:yi,data:expand(dense),symbolSize:9.5,itemStyle:{color}},
 {...base,name:'points',xAxisIndex:xi,yAxisIndex:yi,data:expand(cols),symbolSize:5,itemStyle:{color}},
 {...base,name:'outliers',xAxisIndex:xi,yAxisIndex:yi,data:outl,symbolSize:4,itemStyle:{color}}];}
const font='"Liberation Sans",Arial,sans-serif',ink='#404040',line='#6a6a6a',grid='#e3e3e3';
const lab={color:ink,fontFamily:font,fontSize:17};
const nm={...lab,fontSize:18};
function xa(ticks,gi,max,pad){return [
 {type:'value',gridIndex:gi,min:0,max,position:'bottom',name:'Day of the year 2016',nameLocation:'middle',nameGap:33,nameTextStyle:{...nm,padding:[0,0,0,pad]},
  axisLine:{onZero:false,lineStyle:{color:line,width:1.5}},axisTick:{inside:true,length:5,lineStyle:{color:line},customValues:ticks},axisLabel:{...lab,margin:11,customValues:ticks},splitLine:{show:true,lineStyle:{color:grid}}},
 {type:'value',gridIndex:gi,min:0,max,position:'top',axisLine:{onZero:false,lineStyle:{color:line,width:1.5}},axisTick:{inside:true,length:5,lineStyle:{color:line},customValues:ticks},axisLabel:{show:false,customValues:ticks},splitLine:{show:false}}];}
function ya(gi,max,interval,right){const out=[
 {type:'value',gridIndex:gi,min:0,max,interval,position:'left',name:'Output Power\n(W/m²)',nameLocation:'middle',nameGap:38,nameTextStyle:{...nm,lineHeight:29},
  axisLine:{onZero:false,lineStyle:{color:line,width:1.5}},axisTick:{inside:true,length:5,lineStyle:{color:line}},axisLabel:{...lab,margin:6},splitLine:{show:true,lineStyle:{color:grid}}}];
 if(right)out.push({type:'value',gridIndex:gi,min:0,max,interval,position:'right',axisLine:{onZero:false,lineStyle:{color:line,width:1.5}},axisTick:{inside:true,length:5,lineStyle:{color:line}},axisLabel:{show:false},splitLine:{show:false}});
 return out;}
const tt=(text,left,top)=>({text,left,top,textAlign:'center',textStyle:{color:'#111',fontFamily:font,fontWeight:'bold',fontSize:18.3}});
const chart=echarts.init(document.getElementById('c'),null,{renderer:'canvas'});
chart.setOption({animation:false,backgroundColor:'#fff',
 title:[tt('InAs/GaAs',368,5),tt('(1.424/1.07/0.354 eV)',368,30),tt('AlGaAs/GaAs',957,5),tt('(2/1.424/0.576 eV)',957,30)],
 grid:[{left:97,top:56,width:500,height:416,outerBoundsMode:'none'},{left:686,top:56,width:542,height:416,outerBoundsMode:'none'}],
 xAxis:[...xa(inasTicksX,0,368.5,42),...xa(algaTicksX,1,400,0)],
 yAxis:[...ya(0,500,50,false),...ya(1,600,100,true)],
 series:[...series('#00ff00',0,0,inasColumns,inasDense,inasOutliers),...series('#00ffff',2,1,algaColumns,algaDense,algaOutliers)]
});
</script></body></html>
